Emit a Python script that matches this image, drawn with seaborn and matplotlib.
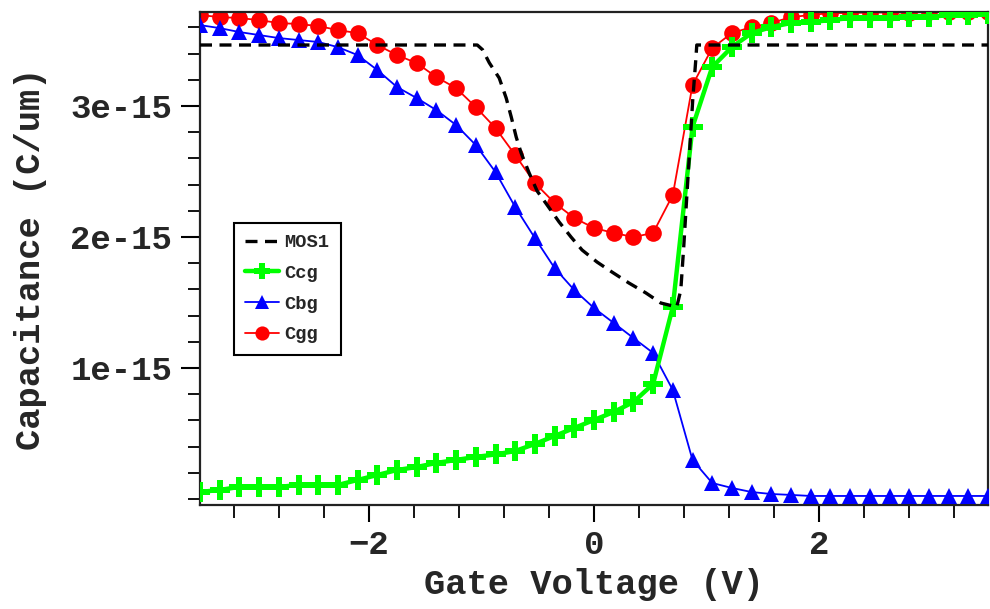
import numpy as np
import pandas as pd
import matplotlib
matplotlib.use("Agg")
import matplotlib.pyplot as plt
from matplotlib.ticker import MultipleLocator
import seaborn as sns

# ---------------- data (capacitance in units of 1e-15 C/um) ----------------
vg = [-3.5, -3.325, -3.15, -2.975, -2.8, -2.625, -2.45, -2.275, -2.1, -1.925,
      -1.75, -1.575, -1.4, -1.225, -1.05, -0.875, -0.7, -0.525, -0.35, -0.175,
      0.0, 0.175, 0.35, 0.525, 0.7, 0.875, 1.05, 1.225, 1.4, 1.575,
      1.75, 1.925, 2.1, 2.275, 2.45, 2.625, 2.8, 2.975, 3.15, 3.325, 3.5]

ccg = [0.053, 0.069, 0.092, 0.092, 0.092, 0.107, 0.107, 0.107, 0.145, 0.183,
       0.221, 0.244, 0.275, 0.298, 0.321, 0.340, 0.366, 0.420, 0.481, 0.542,
       0.603, 0.664, 0.740, 0.878, 1.466, 2.840, 3.298, 3.450, 3.557, 3.603,
       3.634, 3.641, 3.656, 3.672, 3.672, 3.672, 3.679, 3.679, 3.695, 3.695, 3.702]

cbg = [3.618, 3.595, 3.565, 3.542, 3.519, 3.504, 3.489, 3.450, 3.389, 3.275,
       3.145, 3.061, 2.969, 2.855, 2.702, 2.496, 2.229, 1.992, 1.763, 1.595,
       1.458, 1.344, 1.229, 1.115, 0.832, 0.298, 0.122, 0.084, 0.053, 0.038,
       0.031, 0.023, 0.023, 0.023, 0.023, 0.023, 0.023, 0.023, 0.023, 0.023, 0.023]

cgg = [3.695, 3.679, 3.672, 3.656, 3.634, 3.626, 3.611, 3.580, 3.557, 3.466,
       3.389, 3.328, 3.221, 3.137, 2.992, 2.832, 2.626, 2.412, 2.260, 2.145,
       2.069, 2.031, 2.000, 2.031, 2.321, 3.160, 3.443, 3.557, 3.603, 3.634,
       3.679, 3.695, 3.710, 3.710, 3.714, 3.714, 3.714, 3.718, 3.718, 3.718, 3.718]

mos1_vg = [-3.5, -1.037, -0.99, -0.93, -0.842, -0.78, -0.735, -0.691, -0.647,
           -0.576, -0.505, -0.416, -0.31, -0.204, -0.106, 0.027, 0.159, 0.31,
           0.461, 0.594, 0.735, 0.771, 0.797, 0.824, 0.85, 0.877, 0.904, 0.913, 3.5]
mos1 = [3.466, 3.466, 3.43, 3.33, 3.214, 3.061, 2.916, 2.763, 2.641,
        2.489, 2.351, 2.244, 2.115, 2.0, 1.901, 1.809, 1.733, 1.649,
        1.573, 1.496, 1.466, 1.595, 1.924, 2.305, 2.664, 3.046, 3.351, 3.466, 3.466]

series_names = ["MOS1", "Ccg", "Cbg", "Cgg"]
xticks = [-2, 0, 2]
xtick_labels = ["\u22122", "0", "2"]
yticks = [1e-15, 2e-15, 3e-15]
ytick_labels = ["1e-15", "2e-15", "3e-15"]
xlabel = "Gate Voltage (V)"
ylabel = "Capacitance (C/um)"

SCALE = 1e-15
df = pd.DataFrame({"Vg": vg,
                   "Ccg": np.array(ccg) * SCALE,
                   "Cbg": np.array(cbg) * SCALE,
                   "Cgg": np.array(cgg) * SCALE})
df_mos = pd.DataFrame({"Vg": mos1_vg, "MOS1": np.array(mos1) * SCALE})

# ---------------- style ----------------
sns.set_style("ticks")
FONT = ["Liberation Mono", "DejaVu Sans Mono"]
plt.rcParams["font.family"] = FONT
plt.rcParams["font.weight"] = "bold"

fig = plt.figure(figsize=(9.9, 6.09), dpi=100)
ax = fig.add_axes([200 / 990, 1 - 505 / 609, 788 / 990, (505 - 12) / 609])

green = "#00ff00"
blue = "#0000ff"
red = "#ff0000"

sns.lineplot(data=df, x="Vg", y="Cgg", ax=ax, color=red, linewidth=1.3,
             marker="o", markersize=12, markeredgewidth=0, sort=False,
             estimator=None, zorder=2)
sns.lineplot(data=df, x="Vg", y="Cbg", ax=ax, color=blue, linewidth=1.3,
             marker="^", markersize=12, markeredgewidth=0, sort=False,
             estimator=None, zorder=3)
sns.lineplot(data=df, x="Vg", y="Ccg", ax=ax, color=green, linewidth=3.2,
             marker="P", markersize=14, markeredgewidth=0, sort=False,
             estimator=None, zorder=4)
sns.lineplot(data=df_mos, x="Vg", y="MOS1", ax=ax, color="black",
             linewidth=2.4, linestyle="--", sort=False, estimator=None, zorder=5)
ax.lines[-1].set_dashes([3.6, 2.25])

lines = ax.lines
mos_line, ccg_line, cbg_line, cgg_line = lines[3], lines[2], lines[1], lines[0]

ax.set_xlim(-3.5, 3.5)
ax.set_ylim(-0.046e-15, 3.718e-15)

ax.set_xticks(xticks, labels=xtick_labels)
ax.set_yticks(yticks, labels=ytick_labels)
ax.xaxis.set_minor_locator(MultipleLocator(0.4))
ax.yaxis.set_minor_locator(MultipleLocator(0.2e-15))

ax.tick_params(which="major", direction="out", length=14, width=1.5,
               labelsize=24.5, pad=6, color="black")
ax.tick_params(axis="x", which="major", length=12, pad=6)
ax.tick_params(which="minor", direction="out", length=9, width=1.3,
               color="black")
for lab in ax.get_xticklabels() + ax.get_yticklabels():
    lab.set_fontweight("bold")

ax.set_xlabel(xlabel, fontsize=25.5, fontweight="bold", labelpad=5)
ax.set_ylabel(ylabel, fontsize=25.5, fontweight="bold", labelpad=17)

for side in ["left", "bottom", "top", "right"]:
    ax.spines[side].set_visible(True)
    ax.spines[side].set_linewidth(1.6)
    ax.spines[side].set_color("#222222")

leg = ax.legend([mos_line, ccg_line, cbg_line, cgg_line], series_names,
                loc="upper left", bbox_to_anchor=(0.043, 0.572),
                borderaxespad=0, fancybox=False, framealpha=1,
                edgecolor="black", prop={"family": FONT, "weight": "bold",
                                         "size": 13.5},
                handlelength=1.8, handletextpad=0.3, labelspacing=0.72,
                markerscale=0.85, borderpad=0.6)
leg.get_frame().set_linewidth(1.5)

fig.savefig("out.png", dpi=100)
